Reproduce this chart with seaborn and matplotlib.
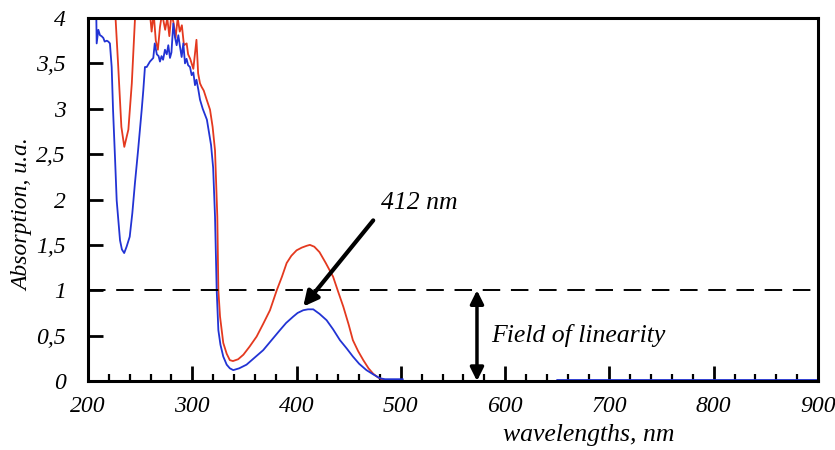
import matplotlib
matplotlib.use("Agg")
import matplotlib.pyplot as plt
import seaborn as sns
import pandas as pd
from matplotlib.ticker import FuncFormatter, MultipleLocator

# red spectrum (values above 4 are clipped by the axes)
red_wl = [208, 212, 216, 220, 224, 226.5, 229, 232, 234.8, 238.7, 242, 245, 250, 255, 259, 261, 263,
          265, 267, 269, 271, 274, 276, 278, 280, 282, 284, 286, 288, 290, 292, 294.6, 296, 298, 301,
          302.5, 304, 305.6, 307.4, 309, 311, 313.8, 317, 319.5, 321.8, 324, 325, 326.6, 329.7, 333,
          336, 339, 344, 349, 355, 361.7, 368, 374.5, 381, 386, 390.5, 395, 400, 405, 409.7, 412.8,
          417, 422, 428, 435, 440, 444.8, 450, 454, 459, 464, 469, 473.5, 478, 481.6, 486]
red_abs = [4.05, 4.1, 4.1, 4.1, 4.1, 3.98, 3.46, 2.80, 2.58, 2.77, 3.28, 3.98, 4.2, 4.2, 4.1, 3.85,
           4.05, 3.75, 3.65, 3.9, 4.05, 3.87, 4.0, 3.8, 4.05, 3.95, 3.78, 4.0, 3.85, 3.92, 3.7, 3.72,
           3.6, 3.55, 3.44, 3.6, 3.76, 3.39, 3.28, 3.24, 3.2, 3.10, 2.99, 2.8, 2.54, 1.81, 1.0, 0.71,
           0.42, 0.30, 0.23, 0.22, 0.24, 0.29, 0.38, 0.49, 0.63, 0.78, 1.0, 1.15, 1.30, 1.38, 1.44,
           1.47, 1.49, 1.50, 1.48, 1.42, 1.30, 1.15, 0.98, 0.82, 0.62, 0.45, 0.33, 0.23, 0.14, 0.08,
           0.04, 0.02, 0.01]

# blue spectrum
blue_wl = [208, 208.3, 209.9, 211.5, 213, 214.7, 216, 218, 219.5, 221, 222.7, 224, 226, 227.5, 230.7,
           232.5, 234.7, 237, 240, 242.5, 245, 248, 251.5, 253, 254.6, 256.3, 259.4, 262.6, 264, 266,
           267.7, 269, 270.5, 272, 273.8, 275.5, 277, 278.6, 280, 281.8, 283.4, 285, 286.6, 288,
           289.8, 291.4, 293, 294.5, 296, 297.8, 299.4, 301, 302.6, 304, 305.8, 307.4, 310, 314, 318,
           320, 321.8, 323.4, 325, 327, 329.7, 333, 336, 339.3, 345, 352, 360, 368, 376, 384, 390,
           396.8, 401, 406.4, 411, 416, 422, 428.8, 435, 441.6, 448, 454, 460, 467, 474, 480, 484.7,
           492, 502]
blue_abs = [3.98, 3.72, 3.87, 3.81, 3.80, 3.78, 3.74, 3.75, 3.74, 3.72, 3.46, 2.99, 2.43, 1.99, 1.55,
            1.45, 1.41, 1.48, 1.59, 1.85, 2.18, 2.54, 2.99, 3.2, 3.46, 3.46, 3.52, 3.56, 3.72, 3.6,
            3.58, 3.52, 3.58, 3.54, 3.65, 3.6, 3.70, 3.56, 3.62, 3.94, 3.79, 3.7, 3.81, 3.70, 3.57,
            3.72, 3.50, 3.55, 3.48, 3.46, 3.37, 3.40, 3.26, 3.32, 3.21, 3.10, 3.0, 2.88, 2.6, 2.35,
            1.81, 1.0, 0.56, 0.4, 0.27, 0.18, 0.14, 0.12, 0.14, 0.18, 0.26, 0.34, 0.45, 0.56, 0.64,
            0.71, 0.75, 0.78, 0.79, 0.79, 0.74, 0.67, 0.57, 0.45, 0.36, 0.27, 0.19, 0.12, 0.07, 0.03,
            0.02, 0.02, 0.02]

# flat blue baseline at the long-wavelength end
tail_wl = [650, 900]
tail_abs = [0.015, 0.015]

linear_limit = 1.0
peak_label = "412 nm"

sns.set_style("ticks")
plt.rcParams["font.family"] = ["Liberation Serif", "DejaVu Serif"]
plt.rcParams["font.style"] = "italic"
plt.rcParams["text.color"] = "black"
plt.rcParams["axes.labelcolor"] = "black"
plt.rcParams["xtick.color"] = "black"
plt.rcParams["ytick.color"] = "black"
plt.rcParams["axes.edgecolor"] = "black"

red_df = pd.DataFrame({"wl": red_wl, "abs": red_abs})
blue_df = pd.DataFrame({"wl": blue_wl, "abs": blue_abs})
tail_df = pd.DataFrame({"wl": tail_wl, "abs": tail_abs})

fig = plt.figure(figsize=(8.35, 4.5), dpi=100)
ax = fig.add_axes([0.1054, 0.1533, 0.8742, 0.8067])

sns.lineplot(data=red_df, x="wl", y="abs", color="#e4391f", lw=1.3, sort=False, ax=ax)
sns.lineplot(data=blue_df, x="wl", y="abs", color="#2233d4", lw=1.3, sort=False, ax=ax)
sns.lineplot(data=tail_df, x="wl", y="abs", color="#2233d4", lw=1.3, ax=ax)

ax.axhline(linear_limit, color="black", lw=1.4, dashes=(9, 5.5))

ax.set_xlim(200, 900)
ax.set_ylim(0, 4)
ax.xaxis.set_major_locator(MultipleLocator(100))
ax.xaxis.set_minor_locator(MultipleLocator(20))
ax.yaxis.set_major_locator(MultipleLocator(0.5))
ax.yaxis.set_major_formatter(FuncFormatter(lambda v, p: f"{v:g}".replace(".", ",")))
ax.tick_params(axis="both", which="major", direction="in", length=11, width=2, labelsize=17)
ax.tick_params(axis="x", which="major", pad=11)
ax.tick_params(axis="y", which="major", pad=16)
ax.tick_params(axis="x", which="minor", direction="in", length=5, width=1.6)
for s in ax.spines.values():
    s.set_linewidth(2.2)

ax.set_xlabel("wavelengths, nm", fontsize=18.5, va="center", ha="center")
ax.xaxis.set_label_coords(0.686, -0.149)
ax.set_ylabel("Absorption, u.a.", fontsize=17, va="center", ha="center")
ax.yaxis.set_label_coords(-0.090, 0.457)

# peak arrow
ax.annotate("", xy=(406.4, 0.82), xytext=(473.5, 1.77),
            arrowprops=dict(arrowstyle="-|>", color="black", lw=3, mutation_scale=22,
                            shrinkA=0, shrinkB=0))
ax.text(518, 1.96, peak_label, fontsize=18.5, ha="center", va="center")

# linearity range arrow
ax.annotate("", xy=(573, linear_limit), xytext=(573, 0),
            arrowprops=dict(arrowstyle="<|-|>", color="black", lw=2.5, mutation_scale=20,
                            shrinkA=0, shrinkB=0))
ax.text(587, 0.5, "Field of linearity", fontsize=18.5, ha="left", va="center")

fig.savefig("out.png", dpi=100)
